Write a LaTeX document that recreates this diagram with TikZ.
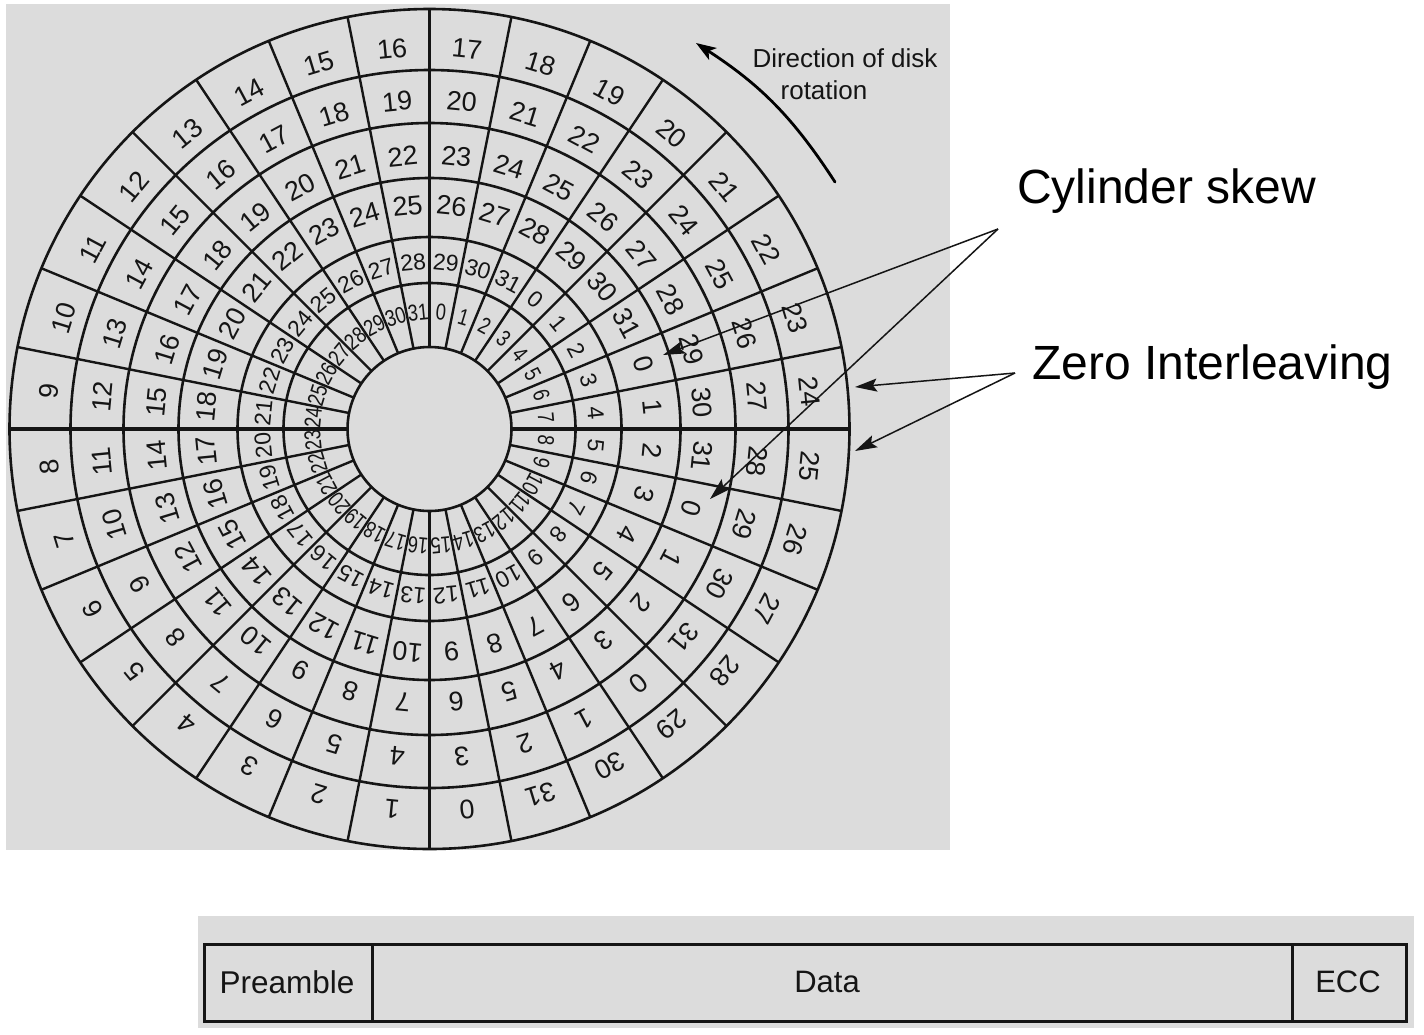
\documentclass[tikz,border=0pt]{standalone}
\usepackage{fontspec}
\usepackage{graphicx}
\setmainfont{Liberation Sans}
\usetikzlibrary{arrows.meta}
\definecolor{panel}{HTML}{DCDCDC}
\definecolor{ink}{HTML}{151515}
\tikzset{
  x=1pt,y=1pt,
  panelbg/.style={fill=panel,draw=none},
  ringline/.style={draw=ink,line width=2.6pt},
  spoke/.style={draw=ink,line width=2.4pt},
  numlabel/.style={inner sep=0pt,text=ink},
  caption/.style={inner sep=0pt,text=ink,font=\fontsize{26}{26}\selectfont},
  bigcaption/.style={inner sep=0pt,text=black,font=\fontsize{48}{48}\selectfont},
  pointer/.style={draw=ink,line width=1.5pt,-{Stealth[length=22pt,width=13pt,inset=4pt]}},
  rotarrow/.style={draw=black,line width=2.8pt,line cap=round,-{Stealth[length=20pt,width=14pt,inset=5pt]}},
  fieldbox/.style={draw=ink,line width=3pt,minimum height=77pt,inner sep=0pt,outer sep=0pt,anchor=west},
}
\begin{document}
\begin{tikzpicture}
\useasboundingbox (0,0) rectangle (1424,-1034);
\fill[white] (0,0) rectangle (1424,-1034);
\fill[panelbg] (6,-4) rectangle (950,-850);
\fill[panelbg] (198,-916) rectangle (1414,-1028);
\begin{scope}[shift={(429.5,-429)}]
  \foreach \r in {82,146,192,251,306,359,420}{
    \draw[ringline] (0,0) circle[radius=\r];
  }
  \foreach \k in {0,...,31}{
    \pgfmathsetmacro{\a}{90-11.25*\k}
    \draw[spoke] (\a:82) -- (\a:420);
  }
  \draw[ink,line width=3.2pt] (180:82) -- (180:420) (0:82) -- (0:420);
  \draw[ink,line width=2.8pt] (90:82) -- (90:420) (270:82) -- (270:420);
  \foreach \rad/\base/\fs/\xs/\ring in {
    382/17/27/1/a, 329/20/27/1/b, 274/23/27/1/c, 224/26/27/1/d, 167/29/23/1/e, 117/0/23/0.8/f}{
    \foreach \k in {0,...,31}{
      \pgfmathsetmacro{\a}{84.375-11.25*\k}
      \pgfmathsetmacro{\rot}{\a-90}
      \pgfmathtruncatemacro{\n}{mod(\base+\k,32)}
      \node[numlabel,rotate=\rot] (s\ring\k) at (\a:\rad)
        {\fontsize{\fs}{\fs}\selectfont\scalebox{\xs}[1]{\n}};
    }
  }
\end{scope}
\node[caption] (dirA) at (845,-58) {Direction of disk};
\node[caption] (dirB) at (824,-90) {rotation};
\node[bigcaption] (skew) at (1166.5,-191) {Cylinder skew};
\node[bigcaption] (zero) at (1212.5,-367) {Zero Interleaving};
\coordinate (rotS) at (835,-182);
\coordinate (rotE) at (696,-43);
\draw[rotarrow] (rotS) to[bend right=12] (rotE);
\coordinate (skewP) at (998,-229);
\coordinate (zeroP) at (1015,-373);
\coordinate (skewA) at (663,-355);
\coordinate (skewB) at (710,-499);
\coordinate (zeroA) at (855,-387);
\coordinate (zeroB) at (855,-451);
\draw[pointer] (skewP) -- (skewA);
\draw[pointer] (skewP) -- (skewB);
\draw[pointer] (zeroP) -- (zeroA);
\draw[pointer] (zeroP) -- (zeroB);
\node[fieldbox,minimum width=168pt] (fpre) at (204,-982.5) {};
\node[fieldbox,minimum width=920pt] (fdata) at (372,-982.5) {};
\node[fieldbox,minimum width=114pt] (fecc) at (1292,-982.5) {};
\node[inner sep=0pt,text=ink,font=\fontsize{31.5}{32}\selectfont] (tpre) at (287,-982) {Preamble};
\node[inner sep=0pt,text=ink,font=\fontsize{31}{31}\selectfont] (tdata) at (827,-982) {Data};
\node[inner sep=0pt,text=ink,font=\fontsize{31}{31}\selectfont] (tecc) at (1348,-982) {ECC};
\end{tikzpicture}
\end{document}
